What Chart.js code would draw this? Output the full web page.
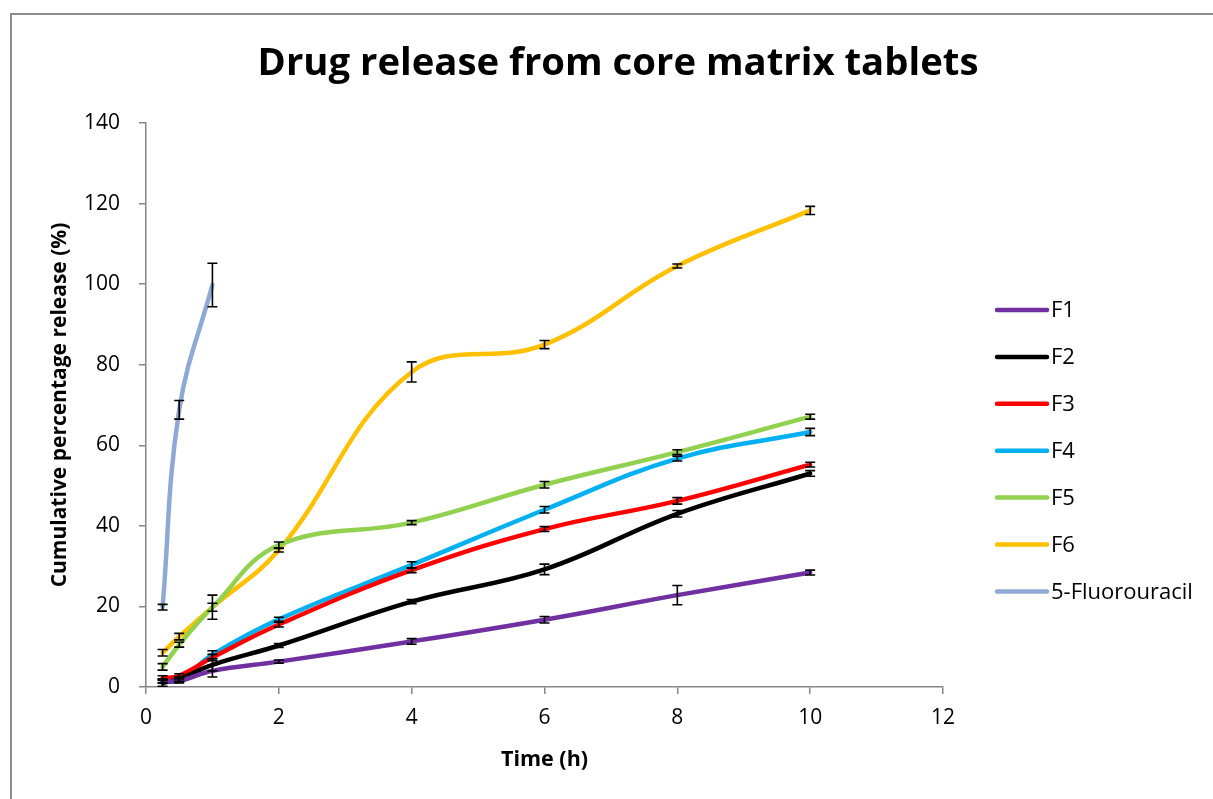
<!DOCTYPE html>
<html>
<head>
<meta charset="utf-8">
<script src="https://cdn.jsdelivr.net/npm/chart.js@4.4.0/dist/chart.umd.min.js"></script>
<style>
    html, body { margin: 0; padding: 0; background: #fff; overflow: hidden; }
    #wrap { position: relative; width: 1213px; height: 799px; overflow: hidden; }
    #frame { position: absolute; left: 10px; top: 13px; width: 1240px; height: 830px; border: 2px solid #8c8c8c; pointer-events: none; }
    canvas { position: absolute; left: 0; top: 0; }
</style>
</head>
<body>
<div id="wrap">
    <canvas id="releaseChart" width="1213" height="799"></canvas>
    <div id="frame"></div>
</div>
<script>
// sampling times (h)
const time = [0.25, 0.5, 1, 2, 4, 6, 8, 10];
const fuTime = [0.25, 0.5, 1];

// cumulative release (%)
const f1 = [1.5, 1.5, 4.0, 6.3, 11.3, 16.7, 22.8, 28.4];
const f2 = [1.0, 2.0, 5.5, 10.3, 21.2, 29.2, 43.0, 53.0];
const f3 = [2.2, 2.8, 7.3, 15.5, 29.0, 39.2, 46.2, 55.2];
const f4 = [1.5, 1.7, 8.0, 16.8, 30.3, 44.0, 56.7, 63.3];
const f5 = [5.0, 10.5, 19.8, 35.2, 40.8, 50.2, 58.3, 67.1];
const f6 = [8.5, 12.5, 19.8, 34.0, 78.2, 85.0, 104.5, 118.3];
const fu = [19.8, 68.8, 99.8];

// error bar half-lengths
const f1Err = [0.5, 0.5, 1.5, 0.4, 0.7, 0.8, 2.4, 0.6];
const f2Err = [0.8, 0.6, 1.5, 0.5, 0.5, 1.3, 0.8, 0.7];
const f3Err = [0.6, 0.5, 0.8, 0.6, 0.6, 0.6, 0.8, 0.6];
const f4Err = [0.5, 0.5, 1.0, 0.5, 0.8, 0.8, 0.6, 0.9];
const f5Err = [0.8, 0.6, 1.0, 0.8, 0.5, 0.8, 0.6, 0.6];
const f6Err = [0.8, 0.8, 3.0, 0.5, 2.5, 1.0, 0.5, 1.0];
const fuErr = [0.7, 2.3, 5.4];

const xTicks = [0, 2, 4, 6, 8, 10, 12];
const yTicks = [0, 20, 40, 60, 80, 100, 120, 140];

const series = [
    { label: "F1", x: time, y: f1, err: f1Err, color: "#7030A0" },
    { label: "F2", x: time, y: f2, err: f2Err, color: "#000000" },
    { label: "F3", x: time, y: f3, err: f3Err, color: "#FF0000" },
    { label: "F4", x: time, y: f4, err: f4Err, color: "#00B0F0" },
    { label: "F5", x: time, y: f5, err: f5Err, color: "#92D050" },
    { label: "F6", x: time, y: f6, err: f6Err, color: "#FFC000" },
    { label: "5-Fluorouracil", x: fuTime, y: fu, err: fuErr, color: "#8EA9D4" }
];

const FONT = "'Open Sans', 'Noto Sans', sans-serif";
const AXIS_GREY = "#868686";

// error bars, title and legend
const decorPlugin = {
    id: "decor",
    afterDatasetsDraw(chart) {
        const ctx = chart.ctx;
        const xs = chart.scales.x;
        const ys = chart.scales.y;
        ctx.save();
        ctx.strokeStyle = "#000";
        ctx.lineWidth = 1.6;
        chart.data.datasets.forEach(ds => {
            ds.data.forEach((p, i) => {
                const e = ds.errors[i];
                const px = xs.getPixelForValue(p.x);
                const top = ys.getPixelForValue(p.y + e);
                const bot = ys.getPixelForValue(p.y - e);
                ctx.beginPath();
                ctx.moveTo(px, top); ctx.lineTo(px, bot);
                ctx.moveTo(px - 5, top); ctx.lineTo(px + 5, top);
                ctx.moveTo(px - 5, bot); ctx.lineTo(px + 5, bot);
                ctx.stroke();
            });
        });
        ctx.restore();
    },
    afterDraw(chart) {
        const ctx = chart.ctx;
        ctx.save();
        ctx.fillStyle = "#000";
        ctx.font = "bold 38.3px " + FONT;
        ctx.textAlign = "center";
        ctx.textBaseline = "middle";
        ctx.fillText("Drug release from core matrix tablets", 618, 64);

        ctx.font = "22px " + FONT;
        ctx.textAlign = "left";
        ctx.lineCap = "round";
        ctx.lineWidth = 4.5;
        chart.data.datasets.forEach((ds, i) => {
            const y = 310 + i * 46.9;
            ctx.strokeStyle = ds.borderColor;
            ctx.beginPath();
            ctx.moveTo(997, y);
            ctx.lineTo(1047, y);
            ctx.stroke();
            ctx.fillText(ds.label, 1051, y + 1);
        });
        ctx.restore();
    }
};

new Chart(document.getElementById("releaseChart"), {
    type: "line",
    data: {
        datasets: series.map(s => ({
            label: s.label,
            data: s.x.map((t, i) => ({ x: t, y: s.y[i] })),
            errors: s.err,
            borderColor: s.color,
            backgroundColor: s.color,
            borderWidth: 4.5,
            pointRadius: 0,
            fill: false,
            tension: 0.4,
            borderCapStyle: "round"
        }))
    },
    options: {
        responsive: false,
        animation: false,
        devicePixelRatio: 1,
        layout: {
            padding: { left: 0, top: 123, right: 270, bottom: 0 }
        },
        plugins: {
            legend: { display: false },
            title: { display: false },
            tooltip: { enabled: false }
        },
        scales: {
            x: {
                type: "linear",
                min: 0,
                max: 12,
                afterFit: scale => { scale.height = 112; },
                afterBuildTicks: scale => { scale.ticks = xTicks.map(v => ({ value: v })); },
                ticks: { color: "#000", padding: 11, font: { family: FONT, size: 21 } },
                grid: { drawOnChartArea: false, drawTicks: true, tickLength: 7, color: AXIS_GREY, lineWidth: 1.5 },
                border: { color: AXIS_GREY, width: 1.5 },
                title: {
                    display: true,
                    text: "Time (h)",
                    color: "#000",
                    font: { family: FONT, size: 21.5, weight: "bold" },
                    padding: { top: 0, bottom: 26 }
                }
            },
            y: {
                type: "linear",
                min: 0,
                max: 140,
                afterFit: scale => { scale.width = 146; },
                afterBuildTicks: scale => { scale.ticks = yTicks.map(v => ({ value: v })); },
                ticks: { color: "#000", padding: 19, font: { family: FONT, size: 21 } },
                grid: { drawOnChartArea: false, drawTicks: true, tickLength: 7, color: AXIS_GREY, lineWidth: 1.5 },
                border: { color: AXIS_GREY, width: 1.5 },
                title: {
                    display: true,
                    text: "Cumulative percentage release (%)",
                    color: "#000",
                    font: { family: FONT, size: 21, weight: "bold" },
                    padding: { top: 47, bottom: 0 }
                }
            }
        }
    },
    plugins: [decorPlugin]
});
</script>
</body>
</html>
